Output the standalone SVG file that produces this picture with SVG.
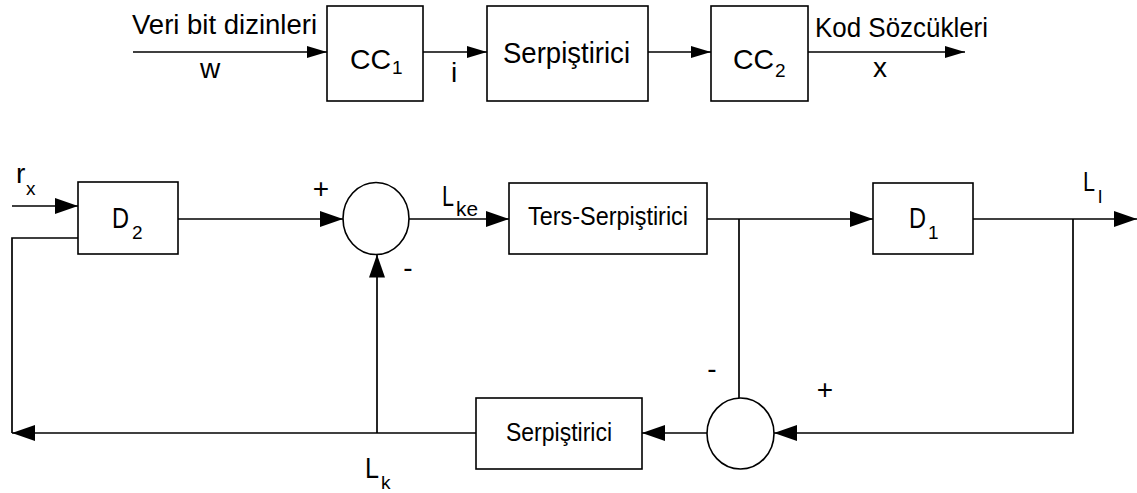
<svg xmlns="http://www.w3.org/2000/svg" width="1137" height="493" viewBox="0 0 1137 493">
  <style>
    .box { fill: #fff; stroke: #000; stroke-width: 1.6; }
    .sum { fill: #fff; stroke: #000; stroke-width: 1.6; }
    .wire { fill: none; stroke: #000; stroke-width: 1.7; }
    .t { font-family: "Liberation Sans", Arial, sans-serif; fill: #000; }
    .big { font-size: 28px; }
    .mid { font-size: 26px; }
    .sub { font-size: 19px; }
    .sign { font-size: 28px; }
  </style>
  <defs>
    <!-- small arrowhead for the encoder chain -->
    <marker id="ahS" viewBox="0 0 20 12" refX="20" refY="6" markerWidth="20" markerHeight="12" markerUnits="userSpaceOnUse" orient="auto">
      <path d="M0,0 L20,6 L0,12 z" fill="#000"/>
    </marker>
    <!-- larger arrowhead for the decoder loop -->
    <marker id="ahL" viewBox="0 0 23 16" refX="23" refY="8" markerWidth="23" markerHeight="16" markerUnits="userSpaceOnUse" orient="auto">
      <path d="M0,0 L23,8 L0,16 z" fill="#000"/>
    </marker>
  </defs>

  <!-- connectors -->
  <g id="connectors">
    <!-- encoder chain -->
    <path class="wire" d="M133,52 H327" marker-end="url(#ahS)"/>
    <path class="wire" d="M423,52 H487" marker-end="url(#ahS)"/>
    <path class="wire" d="M648,52 H711" marker-end="url(#ahS)"/>
    <path class="wire" d="M808,52 H965" marker-end="url(#ahS)"/>

    <!-- decoder loop -->
    <path class="wire" d="M12,206 H78" marker-end="url(#ahL)"/>
    <path class="wire" d="M178,219 H343" marker-end="url(#ahL)"/>
    <path class="wire" d="M409,219 H509" marker-end="url(#ahL)"/>
    <path class="wire" d="M707,219 H873" marker-end="url(#ahL)"/>
    <path class="wire" d="M973,219 H1137" marker-end="url(#ahL)"/>
    <!-- tap before D1 to lower summer -->
    <path class="wire" d="M739,219 V398"/>
    <!-- tap after D1 to lower summer -->
    <path class="wire" d="M1073,219 V433 H774" marker-end="url(#ahL)"/>
    <path class="wire" d="M707,433 H642" marker-end="url(#ahL)"/>
    <!-- feedback to D2 -->
    <path class="wire" d="M476,433 H12" marker-end="url(#ahL)"/>
    <path class="wire" d="M12,433 V238 H78"/>
    <!-- feedback to upper summer -->
    <path class="wire" d="M377,433 V254.5" marker-end="url(#ahL)"/>
  </g>

  <!-- encoder chain nodes -->
  <g id="cc1">
    <rect class="box" x="327" y="6" width="96" height="95"/>
    <text class="t big" x="350" y="69" textLength="41" lengthAdjust="spacingAndGlyphs">CC</text>
    <text class="t sub" x="392" y="74">1</text>
  </g>
  <g id="serpistirici-enc">
    <rect class="box" x="487" y="6" width="161" height="95"/>
    <text class="t" font-size="29" x="503" y="63" textLength="127" lengthAdjust="spacingAndGlyphs">Serpiştirici</text>
  </g>
  <g id="cc2">
    <rect class="box" x="711" y="6" width="97" height="95"/>
    <text class="t big" x="733" y="69" textLength="41" lengthAdjust="spacingAndGlyphs">CC</text>
    <text class="t sub" x="775" y="77">2</text>
  </g>
  <g id="enc-labels">
    <text class="t" font-size="27" x="132" y="34" textLength="185" lengthAdjust="spacingAndGlyphs">Veri bit dizinleri</text>
    <text class="t big" x="210" y="78" text-anchor="middle">w</text>
    <text class="t big" x="454" y="82" text-anchor="middle">i</text>
    <text class="t big" x="815" y="37" textLength="173" lengthAdjust="spacingAndGlyphs">Kod Sözcükleri</text>
    <text class="t big" x="880" y="77" text-anchor="middle">x</text>
  </g>

  <!-- decoder loop nodes -->
  <g id="d2">
    <rect class="box" x="78" y="182" width="100" height="72"/>
    <text class="t" font-size="29" x="112" y="228" textLength="17" lengthAdjust="spacingAndGlyphs">D</text>
    <text class="t sub" x="132" y="239">2</text>
  </g>
  <g id="sum-upper">
    <ellipse class="sum" cx="376" cy="218.5" rx="33" ry="36"/>
  </g>
  <g id="ters-serpistirici">
    <rect class="box" x="509" y="183" width="198" height="71"/>
    <text class="t" font-size="25" x="528" y="225" textLength="160" lengthAdjust="spacingAndGlyphs">Ters-Serpiştirici</text>
  </g>
  <g id="d1">
    <rect class="box" x="873" y="183" width="100" height="71"/>
    <text class="t" font-size="29" x="909" y="228" textLength="17" lengthAdjust="spacingAndGlyphs">D</text>
    <text class="t sub" x="928" y="239">1</text>
  </g>
  <g id="sum-lower">
    <ellipse class="sum" cx="740.5" cy="433.5" rx="33.5" ry="35.5"/>
  </g>
  <g id="serpistirici-dec">
    <rect class="box" x="476" y="398" width="166" height="71"/>
    <text class="t" font-size="25" x="506" y="441" textLength="106" lengthAdjust="spacingAndGlyphs">Serpiştirici</text>
  </g>

  <g id="dec-labels">
    <text class="t big" x="16" y="183">r</text>
    <text class="t sub" x="26" y="195">x</text>
    <text class="t" font-size="30" x="442" y="206" textLength="12" lengthAdjust="spacingAndGlyphs">L</text>
    <text class="t" font-size="21" x="456" y="216" textLength="22" lengthAdjust="spacingAndGlyphs">ke</text>
    <text class="t" font-size="28" x="1083" y="191" textLength="12" lengthAdjust="spacingAndGlyphs">L</text>
    <text class="t sub" x="1098" y="203">l</text>
    <text class="t" font-size="29" x="365" y="478" textLength="14" lengthAdjust="spacingAndGlyphs">L</text>
    <text class="t sub" x="381" y="489">k</text>
    <text class="t sign" x="321" y="198" text-anchor="middle">+</text>
    <text class="t sign" x="408" y="277" text-anchor="middle">-</text>
    <text class="t sign" x="712" y="378" text-anchor="middle">-</text>
    <text class="t sign" x="825" y="399" text-anchor="middle">+</text>
  </g>
</svg>
